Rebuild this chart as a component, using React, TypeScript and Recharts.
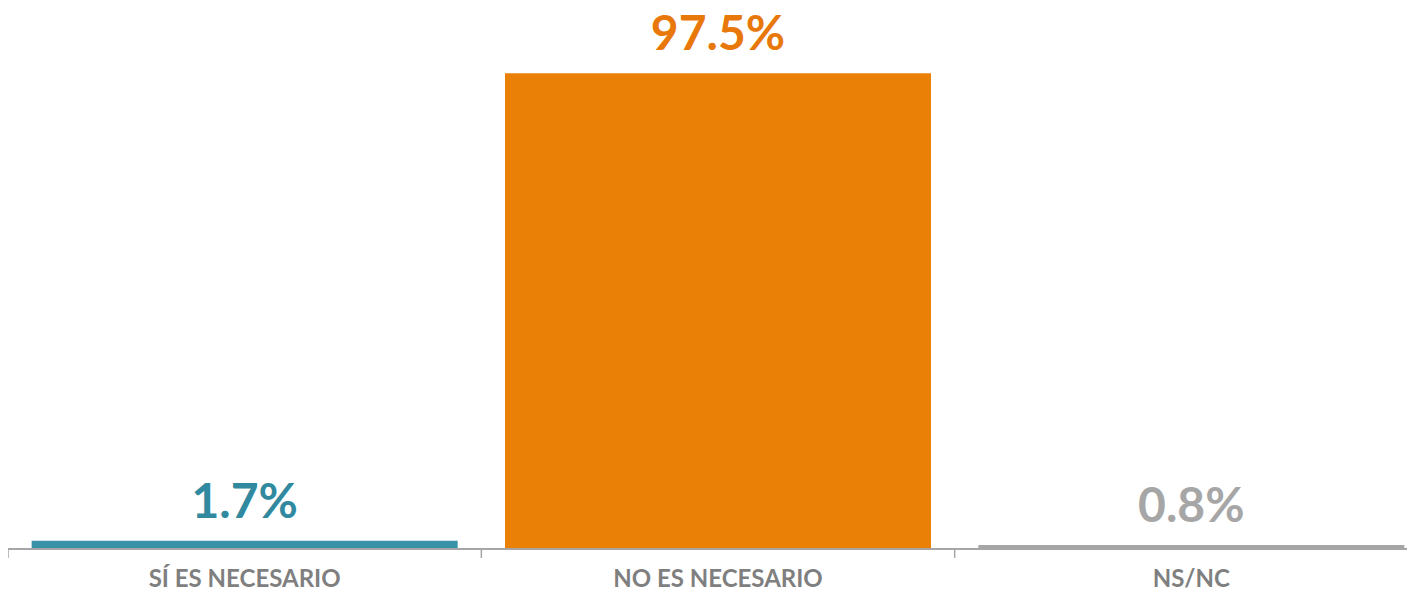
import React from "react";
import { BarChart, Bar, XAxis, YAxis, Cell, LabelList } from "recharts";

const categories = ["SÍ ES NECESARIO", "NO ES NECESARIO", "NS/NC"];
const values = [1.7, 97.5, 0.8];
const valueLabels = ["1.7%", "97.5%", "0.8%"];

const barColors = ["#3891A6", "#EA8005", "#A6A6A6"];
const labelColors = ["#3189A0", "#E8780A", "#A6A6A6"];

const data = categories.map((c, i) => ({ name: c, value: values[i], label: valueLabels[i] }));

const FONT = "Lato, 'Open Sans', 'DejaVu Sans', sans-serif";
const CHART_W = 1420;
const CHART_H = 593;
const BAND = CHART_W / categories.length;

const CategoryTick = (props: any) => {
  const { x, y, payload, index } = props;
  const isLast = index === categories.length - 1;
  return (
    <g>
      <line x1={x - BAND / 2} x2={x - BAND / 2} y1={y} y2={y + 9} stroke="#A6A6A6" strokeWidth={1.5} />
      {isLast && (
        <line x1={x + BAND / 2} x2={x + BAND / 2} y1={y} y2={y + 9} stroke="#A6A6A6" strokeWidth={1.5} />
      )}
      <text
        x={x}
        y={y + 38}
        textAnchor="middle"
        fill="#7F7F7F"
        fontFamily={FONT}
        fontWeight={700}
        fontSize={24}
      >
        {payload.value}
      </text>
    </g>
  );
};

const ValueLabel = (props: any) => {
  const { x, y, width, index, value } = props;
  return (
    <text
      x={x + width / 2}
      y={y - 23}
      textAnchor="middle"
      fill={labelColors[index]}
      fontFamily={FONT}
      fontWeight={700}
      fontSize={48}
    >
      {value}
    </text>
  );
};

export default function App() {
  return (
    <div
      style={{
        position: "relative",
        width: 1407,
        height: CHART_H,
        marginTop: -8,
        overflow: "hidden",
        background: "#fff",
      }}
    >
      <div style={{ position: "absolute", left: 0, top: 0 }}>
        <BarChart
          width={CHART_W}
          height={CHART_H}
          data={data}
          margin={{ top: 61, right: 0, bottom: 0, left: 0 }}
          barCategoryGap="5%"
        >
          <XAxis
            dataKey="name"
            height={44}
            axisLine={{ stroke: "#A6A6A6", strokeWidth: 2 }}
            tickLine={false}
            tickSize={0}
            tickMargin={0}
            tick={<CategoryTick />}
            interval={0}
          />
          <YAxis hide domain={[0, 100]} />
          <Bar dataKey="value" isAnimationActive={false}>
            {data.map((d, i) => (
              <Cell key={d.name} fill={barColors[i]} />
            ))}
            <LabelList dataKey="label" content={<ValueLabel />} />
          </Bar>
        </BarChart>
      </div>
    </div>
  );
}
